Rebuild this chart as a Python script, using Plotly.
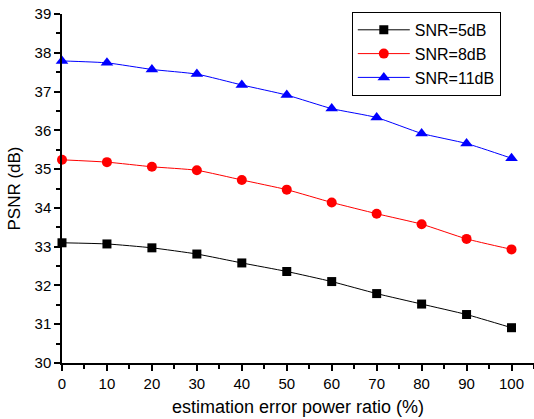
import plotly.graph_objects as go

x_vals = [0, 10, 20, 30, 40, 50, 60, 70, 80, 90, 100]
snr5 = [33.10, 33.07, 32.97, 32.81, 32.58, 32.36, 32.10, 31.79, 31.52, 31.25, 30.91]
snr8 = [35.24, 35.18, 35.06, 34.97, 34.72, 34.47, 34.14, 33.85, 33.58, 33.20, 32.93]
snr11 = [37.79, 37.74, 37.57, 37.45, 37.17, 36.91, 36.56, 36.33, 35.92, 35.66, 35.28]

series = [
    ("SNR=5dB", snr5, "black", "square", 9),
    ("SNR=8dB", snr8, "red", "circle", 10),
    ("SNR=11dB", snr11, "blue", "triangle-up", 11),
]

fig = go.Figure()
for name, ys, color, sym, size in series:
    fig.add_trace(go.Scatter(
        x=x_vals, y=ys, name=name, mode="lines+markers",
        line=dict(color=color, width=1, shape="spline", smoothing=0.5),
        marker=dict(symbol=sym, size=size, color=color),
        cliponaxis=False,
    ))

axis_common = dict(
    showgrid=False, zeroline=False, showline=True, linecolor="black", linewidth=1.5,
    ticks="outside", ticklen=6, tickwidth=1.5, tickcolor="black",
    tickfont=dict(family="Liberation Sans, Arial", size=15, color="black"),
    mirror=False, automargin=False,
)

fig.update_layout(
    width=534, height=419,
    margin=dict(l=62, r=0, t=14, b=56),
    paper_bgcolor="white", plot_bgcolor="white",
    font=dict(family="Liberation Sans, Arial", size=15, color="black"),
    xaxis=dict(range=[0, 105], dtick=10, tick0=0,
               minor=dict(dtick=5, ticks="outside", ticklen=4, tickwidth=1.5, tickcolor="black"),
               title=dict(text="estimation error power ratio (%)", font=dict(size=18), standoff=10),
               **axis_common),
    yaxis=dict(range=[30, 39], dtick=1, tick0=30,
               minor=dict(dtick=0.5, ticks="outside", ticklen=4, tickwidth=1.5, tickcolor="black"),
               title=dict(text="PSNR (dB)", font=dict(size=17), standoff=10),
               **axis_common),
    legend=dict(x=0.614, y=1.006, xanchor="left", yanchor="top",
                bordercolor="black", borderwidth=1, bgcolor="white",
                font=dict(size=16), tracegroupgap=0, itemwidth=52),
    showlegend=True,
)

fig.write_html(
    "out.html",
    config={"displayModeBar": False},
    post_script="document.body.style.margin='0';document.body.style.overflow='hidden';",
)
